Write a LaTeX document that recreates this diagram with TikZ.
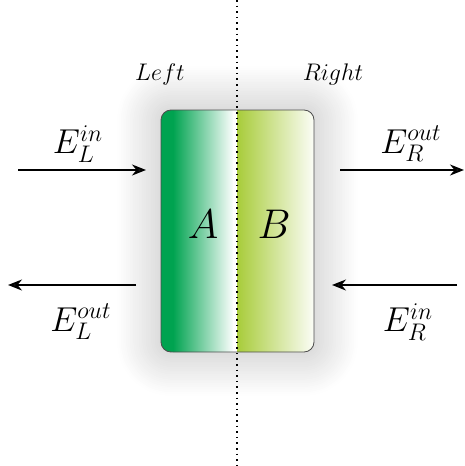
\documentclass[tikz,border=0pt]{standalone}
\usetikzlibrary{arrows.meta,shadows.blur}
\definecolor{leafgreen}{RGB}{0,163,80}
\definecolor{limegreen}{RGB}{168,204,58}
\begin{document}
\begin{tikzpicture}[x=0.5pt, y=-0.5pt,
  arr/.style={-{Stealth[length=7pt, width=5.5pt]}, line width=0.9pt},
  lbl/.style={font=\LARGE},
  side/.style={font=\large},
  half/.style={font=\fontsize{22}{26}\selectfont}
]
  \useasboundingbox (0,0) rectangle (465,466);

  % cell with soft shadow
  \path[fill=white, rounded corners=5pt,
        blur shadow={shadow xshift=0pt, shadow yshift=0pt,
                     shadow blur radius=22pt, shadow opacity=28,
                     shadow blur steps=25}]
    (161,110) rectangle (314,352);
  \begin{scope}
    \clip[rounded corners=5pt] (161,110) rectangle (314,352);
    \fill[leafgreen] (161,110) rectangle (174,352);
    \shade[left color=leafgreen, right color=white] (173,110) rectangle (234,352);
    \fill[white] (233,110) rectangle (237,352);
    \shade[left color=limegreen, right color=limegreen!4] (237,110) rectangle (314,352);
  \end{scope}
  \draw[black!70, line width=0.4pt, rounded corners=5pt] (161,110) rectangle (314,352);

  \node[half] (A) at (203,224) {$A$};
  \node[half] (B) at (274,224) {$B$};

  % interface
  \coordinate (top) at (237,0);
  \coordinate (bottom) at (237,466);
  \draw[dotted, line width=0.8pt] (top) -- (bottom);

  \node[side] (left) at (160,74) {$Left$};
  \node[side] (right) at (333,74) {$Right$};

  % fields
  \coordinate (inL0) at (18,170);  \coordinate (inL1) at (146,170);
  \coordinate (outL0) at (136,285); \coordinate (outL1) at (8,285);
  \coordinate (outR0) at (340,170); \coordinate (outR1) at (464,170);
  \coordinate (inR0) at (457,285); \coordinate (inR1) at (332,285);
  \draw[arr] (inL0) -- (inL1);
  \draw[arr] (outL0) -- (outL1);
  \draw[arr] (outR0) -- (outR1);
  \draw[arr] (inR0) -- (inR1);

  \node[lbl] (EinL) at (78,144) {$E_L^{in}$};
  \node[lbl] (EoutL) at (81,322) {$E_L^{out}$};
  \node[lbl] (EoutR) at (411,144) {$E_R^{out}$};
  \node[lbl] (EinR) at (408,322) {$E_R^{in}$};
\end{tikzpicture}
\end{document}
